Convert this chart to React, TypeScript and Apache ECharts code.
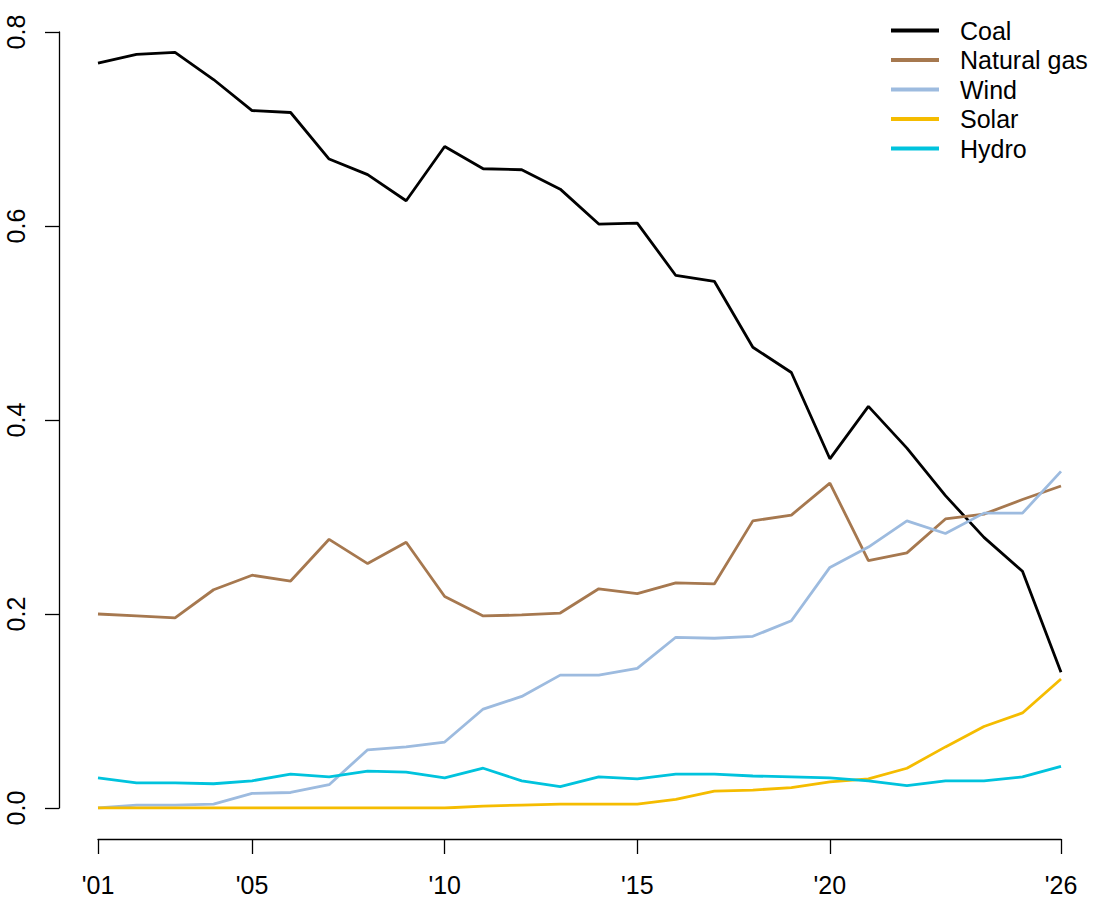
import React, { useEffect, useRef } from 'react';
import * as echarts from 'echarts';

const years = [
  2001, 2002, 2003, 2004, 2005, 2006, 2007, 2008, 2009, 2010, 2011, 2012, 2013,
  2014, 2015, 2016, 2017, 2018, 2019, 2020, 2021, 2022, 2023, 2024, 2025, 2026,
];

const coal = [
  0.768, 0.777, 0.779, 0.751, 0.719, 0.717, 0.669, 0.653, 0.626, 0.682, 0.659, 0.658, 0.638,
  0.602, 0.603, 0.549, 0.543, 0.475, 0.449, 0.36, 0.414, 0.371, 0.322, 0.279, 0.244, 0.14,
];
const naturalGas = [
  0.2, 0.198, 0.196, 0.225, 0.24, 0.234, 0.277, 0.252, 0.274, 0.218, 0.198, 0.199, 0.201,
  0.226, 0.221, 0.232, 0.231, 0.296, 0.302, 0.335, 0.255, 0.263, 0.298, 0.303, 0.318, 0.332,
];
const wind = [
  0.0, 0.003, 0.003, 0.004, 0.015, 0.016, 0.024, 0.06, 0.063, 0.068, 0.102, 0.115, 0.137,
  0.137, 0.144, 0.176, 0.175, 0.177, 0.193, 0.248, 0.269, 0.296, 0.283, 0.304, 0.304, 0.347,
];
const solar = [
  0.0, 0.0, 0.0, 0.0, 0.0, 0.0, 0.0, 0.0, 0.0, 0.0, 0.002, 0.003, 0.004,
  0.004, 0.004, 0.009, 0.0175, 0.0185, 0.021, 0.027, 0.03, 0.041, 0.063, 0.084, 0.098, 0.133,
];
const hydro = [
  0.031, 0.026, 0.026, 0.025, 0.028, 0.035, 0.032, 0.038, 0.037, 0.031, 0.041, 0.028, 0.022,
  0.032, 0.03, 0.035, 0.035, 0.033, 0.032, 0.031, 0.028, 0.023, 0.028, 0.028, 0.032, 0.043,
];

const seriesNames = ['Coal', 'Natural gas', 'Wind', 'Solar', 'Hydro'];
const seriesValues = [coal, naturalGas, wind, solar, hydro];
const seriesColors = ['#000000', '#A6784F', '#9DBBDF', '#F5BC00', '#00C3DD'];

const xTicks = [2001, 2005, 2010, 2015, 2020, 2026];
const yTicks = [0, 0.2, 0.4, 0.6, 0.8];

const font = '"Liberation Sans", Arial, sans-serif';

const App: React.FC = () => {
  const chartRef = useRef<HTMLDivElement | null>(null);

  useEffect(() => {
    document.body.style.margin = '0';
    if (!chartRef.current) return;
    const chart = echarts.init(chartRef.current, undefined, { renderer: 'svg' });

    const option = {
      animation: false,
      backgroundColor: '#ffffff',
      color: seriesColors,
      grid: { left: 98, right: 39, top: 32, bottom: 92, containLabel: false },
      legend: {
        orient: 'vertical',
        left: 891,
        top: 18,
        padding: 0,
        itemGap: 4.5,
        itemWidth: 48,
        itemHeight: 4,
        icon: 'rect',
        data: seriesNames,
        textStyle: {
          fontFamily: font,
          fontSize: 25,
          color: '#000',
          padding: [0, 0, 0, 16],
          lineHeight: 25,
        },
      },
      xAxis: {
        type: 'value',
        min: 2001,
        max: 2026,
        offset: 31,
        splitLine: { show: false },
        axisLine: { show: true, onZero: false, lineStyle: { color: '#000', width: 1.3 } },
        axisTick: {
          show: true,
          length: 15,
          customValues: xTicks,
          lineStyle: { color: '#000', width: 1.3 },
        },
        axisLabel: {
          customValues: xTicks,
          margin: 33,
          fontFamily: font,
          fontSize: 25,
          color: '#000',
          formatter: (v: number) => "'" + String(v).slice(2),
        },
      },
      yAxis: {
        type: 'value',
        min: 0,
        max: 0.8,
        interval: 0.2,
        offset: 39,
        splitLine: { show: false },
        axisLine: { show: true, onZero: false, lineStyle: { color: '#000', width: 1.3 } },
        axisTick: {
          show: true,
          length: 14,
          customValues: yTicks,
          lineStyle: { color: '#000', width: 1.3 },
        },
        axisLabel: {
          customValues: yTicks,
          rotate: 90,
          margin: 31,
          fontFamily: font,
          fontSize: 25,
          color: '#000',
          formatter: (v: number) => v.toFixed(1),
        },
      },
      series: seriesNames.map((name, i) => ({
        name,
        type: 'line',
        showSymbol: false,
        data: years.map((y, j) => [y, seriesValues[i][j]]),
        lineStyle: { width: 2.8, color: seriesColors[i] },
        itemStyle: { color: seriesColors[i] },
      })),
    };

    chart.setOption(option);
    return () => {
      chart.dispose();
    };
  }, []);

  return <div ref={chartRef} style={{ width: '1100px', height: '900px' }} />;
};

export default App;
